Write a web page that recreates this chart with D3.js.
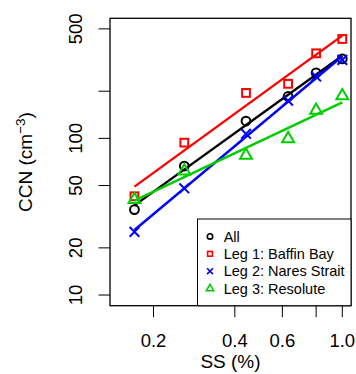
<!DOCTYPE html>
<html lang="en">
    <head>
        <meta charset="utf-8">
        <title>CCN vs SS</title>
        <style>
            body { margin : 0; background : #fff; }
            text { font-family : "Liberation Sans", Arial, sans-serif; fill : #000; }
        </style>
    </head>
    <body>
        <div id="chart"></div>

    <script src="https://cdn.jsdelivr.net/npm/d3@7"></script>
    <script>

    // supersaturation (%) of each CCN counter step
    var ss = [ 0.17 , 0.26 , 0.44 , 0.63 , 0.80 , 1.00 ];

    // mean CCN concentrations (cm^-3)
    var ccn_all     = [ 35.1 , 66.6 , 129 , 185 , 262 , 322 ];
    var ccn_leg1    = [ 42.7 , 93.9 , 195 , 223 , 349 , 431 ];
    var ccn_leg2    = [ 25.3 , 48.0 , 107 , 174 , 248 , 317 ];
    var ccn_leg3    = [ 40.7 , 61.9 , 77.9 , 99.5 , 151 , 187 ];

    var series_names = [ "All" , "Leg 1: Baffin Bay" , "Leg 2: Nares Strait" , "Leg 3: Resolute" ];
    var series_values = [ ccn_all , ccn_leg1 , ccn_leg2 , ccn_leg3 ];
    var series_colors = [ "#000000" , "#ff0000" , "#0000ff" , "#00cd00" ];
    var series_shapes = [ "circle" , "square" , "cross" , "triangle" ];

    var x_ticks = [ 0.2 , 0.4 , 0.6 , 0.8 , 1.0 ];
    var x_labels = [ "0.2" , "0.4" , "0.6" , "" , "1.0" ];
    var y_ticks = [ 10 , 20 , 50 , 100 , 200 , 500 ];
    var y_labels = [ "10" , "20" , "50" , "100" , "" , "500" ];

    var width = 356 , height = 374;
    var margin = { top : 18.3 , right : 5 , bottom : 68.3 , left : 110 };

    var svg = d3.select( "#chart" ).append( "svg" )
        .attr( "width" , width )
        .attr( "height" , height );

    var x = d3.scaleLog()
        .domain( [ 0.138 , 1.077 ] )
        .range( [ margin.left , width - margin.right ] );

    var y = d3.scaleLog()
        .domain( [ 8.55 , 584 ] )
        .range( [ height - margin.bottom , margin.top ] );

    // least squares fit in log-log space, like lm( log(ccn) ~ log(ss) )
    function power_fit( xs , ys )
    {
        var lx = xs.map( Math.log10 ) , ly = ys.map( Math.log10 );
        var mx = d3.mean( lx ) , my = d3.mean( ly );
        var sxy = 0 , sxx = 0;
        for( var i=0 ; i<lx.length ; i++ )
        {
            sxy += ( lx[i] - mx ) * ( ly[i] - my );
            sxx += ( lx[i] - mx ) * ( lx[i] - mx );
        }
        var b = sxy / sxx , a = my - b * mx;
        return function( v ) { return Math.pow( 10 , a + b * Math.log10( v ) ); };
    }

    function draw_symbol( g , shape , cx , cy , r , color , lw )
    {
        if( shape == "circle" )
        {
            g.append( "circle" ).attr( "cx" , cx ).attr( "cy" , cy ).attr( "r" , r )
                .attr( "fill" , "none" ).attr( "stroke" , color ).attr( "stroke-width" , lw );
        }
        else if( shape == "square" )
        {
            var s = 0.886 * r;
            g.append( "rect" ).attr( "x" , cx - s ).attr( "y" , cy - s )
                .attr( "width" , 2 * s ).attr( "height" , 2 * s )
                .attr( "fill" , "none" ).attr( "stroke" , color ).attr( "stroke-width" , lw );
        }
        else if( shape == "cross" )
        {
            var c = 1.1 * r;
            g.append( "path" )
                .attr( "d" , "M" + ( cx - c ) + "," + ( cy - c ) + "L" + ( cx + c ) + "," + ( cy + c ) +
                             "M" + ( cx - c ) + "," + ( cy + c ) + "L" + ( cx + c ) + "," + ( cy - c ) )
                .attr( "fill" , "none" ).attr( "stroke" , color ).attr( "stroke-width" , lw );
        }
        else if( shape == "triangle" )
        {
            var top = 1.555 * r , half = 1.347 * r , low = 0.778 * r;
            g.append( "path" )
                .attr( "d" , "M" + cx + "," + ( cy - top ) + "L" + ( cx + half ) + "," + ( cy + low ) +
                             "L" + ( cx - half ) + "," + ( cy + low ) + "Z" )
                .attr( "fill" , "none" ).attr( "stroke" , color ).attr( "stroke-width" , lw )
                .attr( "stroke-linejoin" , "miter" );
        }
    }

    // points and fitted lines
    var plot = svg.append( "g" ).attr( "id" , "plot" );
    for( var k=0 ; k<series_values.length ; k++ )
    {
        var vals = series_values[k];
        var g = plot.append( "g" );
        for( var i=0 ; i<ss.length ; i++ )
            draw_symbol( g , series_shapes[k] , x( ss[i] ) , y( vals[i] ) , 4.4 , series_colors[k] , 2 );

        var fit = power_fit( ss , vals );
        var ends = d3.extent( ss );
        g.append( "path" )
            .datum( ends )
            .attr( "d" , d3.line().x( function( d ) { return x( d ); } ).y( function( d ) { return y( fit( d ) ); } ) )
            .attr( "fill" , "none" )
            .attr( "stroke" , series_colors[k] )
            .attr( "stroke-width" , 2.4 );
    }

    // frame
    svg.append( "rect" )
        .attr( "x" , margin.left ).attr( "y" , margin.top )
        .attr( "width" , width - margin.left - margin.right )
        .attr( "height" , height - margin.top - margin.bottom )
        .attr( "fill" , "none" ).attr( "stroke" , "#000" ).attr( "stroke-width" , 1.3 );

    // x axis
    var xaxis = svg.append( "g" ).attr( "transform" , "translate(0," + ( height - margin.bottom ) + ")" );
    xaxis.selectAll( "line" ).data( x_ticks ).enter().append( "line" )
        .attr( "x1" , function( d ) { return x( d ); } ).attr( "x2" , function( d ) { return x( d ); } )
        .attr( "y1" , 0 ).attr( "y2" , 11.5 )
        .attr( "stroke" , "#000" ).attr( "stroke-width" , 1 );
    xaxis.selectAll( "text" ).data( x_ticks ).enter().append( "text" )
        .attr( "x" , function( d ) { return x( d ); } )
        .attr( "y" , 41 )
        .attr( "text-anchor" , "middle" )
        .style( "font-size" , "18.5px" )
        .text( function( d , i ) { return x_labels[i]; } );

    // y axis
    var yaxis = svg.append( "g" ).attr( "transform" , "translate(" + margin.left + ",0)" );
    yaxis.selectAll( "line" ).data( y_ticks ).enter().append( "line" )
        .attr( "x1" , -11.5 ).attr( "x2" , 0 )
        .attr( "y1" , function( d ) { return y( d ); } ).attr( "y2" , function( d ) { return y( d ); } )
        .attr( "stroke" , "#000" ).attr( "stroke-width" , 1 );
    yaxis.selectAll( "text" ).data( y_ticks ).enter().append( "text" )
        .attr( "transform" , function( d ) { return "translate(-28," + y( d ) + ") rotate(-90)"; } )
        .attr( "text-anchor" , "middle" )
        .style( "font-size" , "18.5px" )
        .text( function( d , i ) { return y_labels[i]; } );

    // axis titles
    svg.append( "text" )
        .attr( "x" , ( margin.left + width - margin.right ) / 2 )
        .attr( "y" , 368 )
        .attr( "text-anchor" , "middle" )
        .style( "font-size" , "19px" )
        .text( "SS (%)" );

    var ytitle = svg.append( "text" )
        .attr( "transform" , "translate(31.5," + ( ( margin.top + height - margin.bottom ) / 2 ) + ") rotate(-90)" )
        .attr( "text-anchor" , "middle" )
        .style( "font-size" , "19px" );
    ytitle.append( "tspan" ).text( "CCN (cm" );
    ytitle.append( "tspan" ).attr( "dy" , -7 ).style( "font-size" , "13.5px" ).text( "\u22123" );
    ytitle.append( "tspan" ).attr( "dy" , 7 ).text( ")" );

    // legend
    var lg = svg.append( "g" ).attr( "id" , "legend" );
    lg.append( "rect" )
        .attr( "x" , 197.5 ).attr( "y" , 219 )
        .attr( "width" , width - margin.right - 197.5 )
        .attr( "height" , height - margin.bottom - 219 )
        .attr( "fill" , "#fff" ).attr( "stroke" , "#000" ).attr( "stroke-width" , 1 );
    for( var k=0 ; k<series_names.length ; k++ )
    {
        var ry = 236.4 + k * 17.4;
        draw_symbol( lg , series_shapes[k] , 210 , ry , 2.7 , series_colors[k] , 1.6 );
        lg.append( "text" )
            .attr( "x" , 223.7 ).attr( "y" , ry + 5.2 )
            .style( "font-size" , "14.5px" )
            .text( series_names[k] );
    }

    </script>
    </body>
</html>
